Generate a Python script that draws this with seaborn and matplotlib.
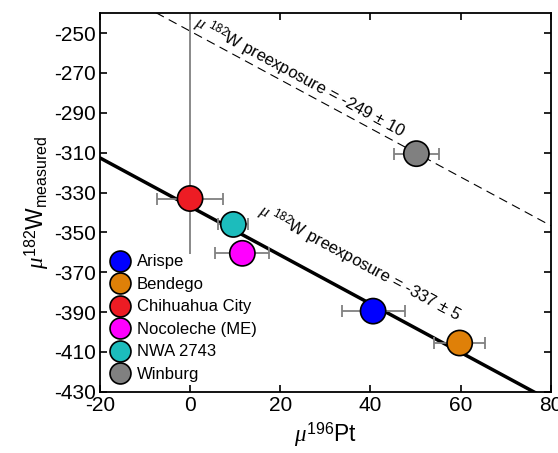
import numpy as np
import pandas as pd
import matplotlib
matplotlib.use("Agg")
import matplotlib.pyplot as plt
import seaborn as sns

# data
names = ["Arispe", "Bendego", "Chihuahua City", "Nocoleche (ME)", "NWA 2743", "Winburg"]
pt196 = [40.6, 59.8, 0.0, 11.6, 9.6, 50.2]
pt196_err = [7.0, 5.7, 7.3, 6.0, 3.3, 5.0]
w182 = [-389.5, -405.5, -333.0, -360.5, -346.0, -310.5]
w182_err_low = [0, 0, 28, 0, 0, 0]
w182_err_high = [0, 0, 110, 0, 0, 0]
colors = ["#0000ff", "#df8008", "#ed1c24", "#ff00ff", "#1cbcbc", "#808080"]

slope = -1.22
intercepts = [-337, -249]
intercept_err = [5, 10]
label_x = [37.6, 24.3]
label_offset = [17, 6]

df = pd.DataFrame({"name": names, "pt": pt196, "w": w182})

sns.set_style("ticks")
plt.rcParams["font.family"] = ["Liberation Sans", "DejaVu Sans"]
plt.rcParams["mathtext.fontset"] = "custom"
plt.rcParams["mathtext.rm"] = "Liberation Sans"
plt.rcParams["mathtext.it"] = "Liberation Serif:italic"
plt.rcParams["axes.unicode_minus"] = False
for k in ["text.color", "axes.labelcolor", "xtick.color", "ytick.color", "axes.edgecolor"]:
    plt.rcParams[k] = "black"

fig = plt.figure(figsize=(5.58, 4.53), dpi=100)
ax = fig.add_axes([0.179, 0.135, 0.808, 0.836])

xx = np.array([-20, 80])
# fit line (solid) and pre-exposure line for Winburg (dashed)
ax.plot(xx, intercepts[0] + slope * xx, color="black", lw=2.5, zorder=1)
ax.plot(xx, intercepts[1] + slope * xx, color="black", lw=0.8, ls="--",
        dashes=(8, 5), zorder=1)

ax.errorbar(pt196, w182, xerr=pt196_err, fmt="none", ecolor="#808080",
            elinewidth=1.3, capsize=4, capthick=1.3, zorder=2)
ax.errorbar(pt196, w182, yerr=[w182_err_low, w182_err_high], fmt="none",
            ecolor="#808080", elinewidth=1.3, capsize=0, zorder=2)

sns.scatterplot(data=df, x="pt", y="w", hue="name", palette=colors, s=330,
                edgecolor="black", linewidth=1.2, ax=ax, zorder=3)

ax.set_xlim(-20, 80)
ax.set_ylim(-430, -240)
ax.set_xticks([-20, 0, 20, 40, 60, 80])
ax.set_yticks(np.arange(-430, -249, 20))
ax.tick_params(direction="in", top=True, right=True, labelsize=15, length=5,
               width=1.2, pad=3)
for sp in ax.spines.values():
    sp.set_linewidth(1.3)

ax.set_xlabel(r"$\mu^{196}$Pt", fontsize=16.5, labelpad=4)
ax.set_ylabel(r"$\mu^{182}$W$_{\rm measured}$", fontsize=16.5, labelpad=2)

ang = np.degrees(np.arctan(slope))
for b, e, lx, off in zip(intercepts, intercept_err, label_x, label_offset):
    ax.text(lx, b + slope * lx + off,
            r"$\mu$ $^{182}$W preexposure = %d $\pm$ %d" % (b, e),
            fontsize=12, rotation=ang, rotation_mode="anchor",
            transform_rotates_text=True, ha="center", va="center")

ax.legend(loc="lower left", frameon=False, fontsize=12, markerscale=0.83,
          handletextpad=0.42, labelspacing=0.45, borderaxespad=0.4,
          handlelength=1.2, borderpad=0.2)

fig.savefig("out.png", dpi=100)
